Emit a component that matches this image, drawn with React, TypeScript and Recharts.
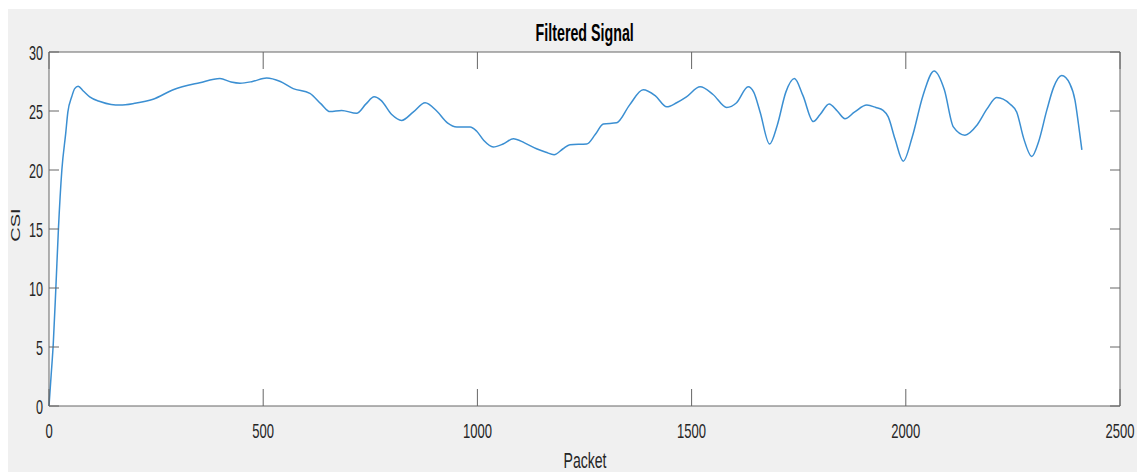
import React from 'react';
import { LineChart, Line, XAxis, YAxis, CartesianGrid, ReferenceLine } from 'recharts';

const packets = [
  0, 5, 10, 16, 22, 30, 39, 44, 53, 60, 68, 80, 95, 119, 145, 166, 200, 243, 290, 352,
  399, 425, 446, 475, 508, 540, 570, 609, 635, 656, 683, 718, 740, 759, 775, 800, 823, 850,
  878, 905, 930, 952, 983, 998, 1015, 1037, 1060, 1084, 1110, 1138, 1160, 1179, 1200, 1216,
  1255, 1275, 1294, 1325, 1355, 1387, 1415, 1442, 1465, 1488, 1520, 1550, 1582, 1605, 1632,
  1645, 1660, 1682, 1700, 1720, 1740, 1760, 1784, 1800, 1821, 1840, 1858, 1880, 1909, 1930,
  1947, 1959, 1975, 1994, 2015, 2040, 2066, 2090, 2111, 2138, 2166, 2190, 2212, 2243, 2259,
  2275, 2294, 2310, 2329, 2345, 2364, 2383, 2395, 2403, 2411,
];
const csi = [
  0, 2.6, 5.3, 10, 15, 20, 23.1, 24.9, 26.2, 26.9, 27.1, 26.7, 26.2, 25.8, 25.55, 25.5, 25.65, 26.0, 26.8, 27.4,
  27.75, 27.45, 27.35, 27.5, 27.8, 27.5, 26.9, 26.5, 25.6, 24.95, 25.05, 24.8, 25.6, 26.2, 25.9, 24.7, 24.2, 24.9,
  25.7, 25.0, 24.0, 23.65, 23.65, 23.3, 22.5, 21.95, 22.2, 22.65, 22.3, 21.8, 21.5, 21.3, 21.8, 22.15,
  22.2, 23.0, 23.9, 24.0, 25.5, 26.8, 26.3, 25.35, 25.7, 26.2, 27.05, 26.4, 25.3, 25.7, 27.05,
  26.6, 24.9, 22.2, 23.8, 26.6, 27.75, 26.3, 24.1, 24.7, 25.6, 25.0, 24.35, 24.9, 25.5, 25.3,
  25.05, 24.5, 22.6, 20.75, 22.8, 26.3, 28.4, 26.8, 23.65, 22.95, 23.8, 25.2, 26.15, 25.6, 24.9,
  22.7, 21.15, 22.4, 25.05, 27.0, 28.0, 27.3, 25.9, 23.9, 21.7,
];
const xTicks = [0, 500, 1000, 1500, 2000, 2500];
const yTicks = [0, 5, 10, 15, 20, 25, 30];
const title = 'Filtered Signal';
const xLabel = 'Packet';
const yLabel = 'CSI';

const data = packets.map((p, i) => ({ packet: p, csi: csi[i] }));

const FONT = '"Liberation Sans", Arial, Helvetica, sans-serif';
const TEXT = '#262626';
const AXIS = '#666666';
const W = 1129;
const H = 463;
const M_TOP = 43;
const M_RIGHT = 17;
const PLOT_TOP = M_TOP;
const PLOT_RIGHT = W - M_RIGHT;

const BottomTick = (props: any) => {
  const { x, y, payload } = props;
  return (
    <g>
      <line x1={x} y1={y} x2={x} y2={y - 17} stroke={AXIS} />
      <line x1={x} y1={PLOT_TOP} x2={x} y2={PLOT_TOP + 17} stroke={AXIS} />
      <text
        transform={`translate(${x},${y + 32}) scale(0.62,1)`}
        textAnchor="middle"
        fontSize={21}
        fontFamily={FONT}
        fill={TEXT}
      >
        {payload.value}
      </text>
    </g>
  );
};

const LeftTick = (props: any) => {
  const { x, y, payload } = props;
  return (
    <g>
      <line x1={x} y1={y} x2={x + 10} y2={y} stroke={AXIS} />
      <line x1={PLOT_RIGHT} y1={y} x2={PLOT_RIGHT - 10} y2={y} stroke={AXIS} />
      <text
        transform={`translate(${x - 6},${y + 8}) scale(0.63,1)`}
        textAnchor="end"
        fontSize={20}
        fontFamily={FONT}
        fill={TEXT}
      >
        {payload.value}
      </text>
    </g>
  );
};

export default function App() {
  return (
    <div>
      <style>{'html,body{margin:0;padding:0;overflow:hidden;background:#ffffff;}'}</style>
      <div style={{ position: 'absolute', left: 8, top: 9, width: W, height: H, background: '#f0f0f0' }}>
        <LineChart width={W} height={H} data={data} margin={{ top: M_TOP, right: M_RIGHT, left: 0, bottom: 0 }}>
          <CartesianGrid fill="#ffffff" stroke="none" horizontal={false} vertical={false} />
          <XAxis
            dataKey="packet"
            type="number"
            domain={[0, 2500]}
            ticks={xTicks}
            interval={0}
            height={66}
            tickSize={0}
            tickMargin={0}
            tickLine={false}
            axisLine={{ stroke: AXIS }}
            tick={BottomTick}
          />
          <YAxis
            type="number"
            domain={[0, 30]}
            ticks={yTicks}
            interval={0}
            width={41}
            tickSize={0}
            tickMargin={0}
            tickLine={false}
            axisLine={{ stroke: AXIS }}
            tick={LeftTick}
          />
          <ReferenceLine y={30} stroke={AXIS} />
          <ReferenceLine x={2500} stroke={AXIS} />
          <Line
            dataKey="csi"
            type="monotone"
            stroke="#3b8fd2"
            strokeWidth={1.5}
            dot={false}
            activeDot={false}
            isAnimationActive={false}
          />
        </LineChart>
        <svg
          width={W}
          height={H}
          style={{ position: 'absolute', left: 0, top: 0, pointerEvents: 'none' }}
        >
          <text
            transform="translate(576.7,31.7) scale(0.62,1)"
            textAnchor="middle"
            fontSize={23}
            fontWeight="bold"
            fontFamily={FONT}
            fill="#000000"
          >
            {title}
          </text>
          <text
            transform="translate(577,459.3) scale(0.64,1)"
            textAnchor="middle"
            fontSize={22}
            fontFamily={FONT}
            fill={TEXT}
          >
            {xLabel}
          </text>
          <text
            transform="translate(12,216) scale(0.63,1) rotate(-90)"
            textAnchor="middle"
            fontSize={20}
            fontFamily={FONT}
            fill={TEXT}
          >
            {yLabel}
          </text>
        </svg>
      </div>
    </div>
  );
}
